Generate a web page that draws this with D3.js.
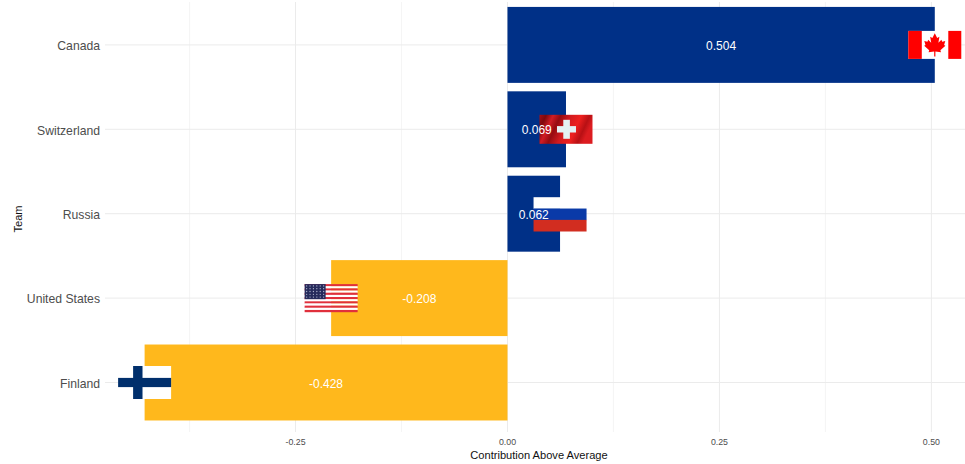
<!DOCTYPE html>
<html><head><meta charset="utf-8">
<script src="https://cdn.jsdelivr.net/npm/d3@7"></script>
<style>html,body{margin:0;padding:0;background:#fff}svg{display:block}text{font-family:"Liberation Sans",Arial,sans-serif}</style>
</head><body><svg id="c" width="965" height="464"></svg>
<script>
const teams = ["Canada","Switzerland","Russia","United States","Finland"];
const values = [0.504,0.069,0.062,-0.208,-0.428];
const xMajor = [-0.25,0,0.25,0.5];
const xMinor = [-0.375,-0.125,0.125,0.375];
const xLabels = ["-0.25","0.00","0.25","0.50"];
const flagKeys = ["ca","ch","ru","us","fi"];
const POS="#003087", NEG="#FFB81C";

const svg=d3.select("#c");
const defs=svg.append("defs");
const x=d3.scaleLinear().domain([-0.4746,0.5506]).range([105.1,974.3]);
const y=d3.scaleBand().domain(teams).range([2.7,424.7]).paddingInner(0.1).paddingOuter(0.05);
const top0=2, bottom0=432;
const g=svg.append("g");

g.selectAll(".minor").data(xMinor).join("line")
 .attr("x1",d=>x(d)).attr("x2",d=>x(d)).attr("y1",top0).attr("y2",bottom0)
 .attr("stroke","#f1f1f1").attr("stroke-width",0.7);
g.selectAll(".major").data(xMajor).join("line")
 .attr("x1",d=>x(d)).attr("x2",d=>x(d)).attr("y1",top0).attr("y2",bottom0)
 .attr("stroke","#ebebeb").attr("stroke-width",1);
g.selectAll(".hgrid").data(teams).join("line")
 .attr("x1",105).attr("x2",965)
 .attr("y1",d=>y(d)+y.bandwidth()/2).attr("y2",d=>y(d)+y.bandwidth()/2)
 .attr("stroke","#ebebeb").attr("stroke-width",1);

g.selectAll(".bar").data(teams).join("rect")
 .attr("x",(d,i)=>Math.min(x(0),x(values[i])))
 .attr("width",(d,i)=>Math.abs(x(values[i])-x(0)))
 .attr("y",d=>y(d)).attr("height",y.bandwidth())
 .attr("fill",(d,i)=>values[i]>=0?POS:NEG);

const swiss=defs.append("linearGradient").attr("id","swissWave").attr("x1",0).attr("y1",0).attr("x2",1).attr("y2",0.25);
[[0,"#a80f16"],[0.12,"#7e080c"],[0.25,"#d01c24"],[0.38,"#960b10"],[0.55,"#d01a1e"],[0.75,"#ee201f"],[0.9,"#b81014"],[1,"#dc1c20"]]
 .forEach(s=>swiss.append("stop").attr("offset",s[0]).attr("stop-color",s[1]));

const FW=53;
const flags={
 ca(f,h){
  f.append("rect").attr("width",FW).attr("height",h).attr("fill","#fff");
  f.append("rect").attr("width",13.5).attr("height",h).attr("fill","#ff0000");
  f.append("rect").attr("x",FW-13).attr("width",13).attr("height",h).attr("fill","#ff0000");
  const leaf=[[0,-11],[2.4,-6.5],[4.6,-7.8],[3.6,-2],[6.6,-5],[7.4,-3],[10.5,-3.6],[9.3,0],[10.6,.8],[5.6,5],[6.2,7],[.6,6.2],[.6,11],[-.6,11],[-.6,6.2],[-6.2,7],[-5.6,5],[-10.6,.8],[-9.3,0],[-10.5,-3.6],[-7.4,-3],[-6.6,-5],[-3.6,-2],[-4.6,-7.8],[-2.4,-6.5]];
  f.append("polygon").attr("points",leaf.map(p=>[FW/2+p[0],h/2+p[1]*1.05].join(",")).join(" ")).attr("fill","#ff0000");
 },
 ch(f,h){
  f.append("rect").attr("width",FW).attr("height",h).attr("fill","url(#swissWave)");
  f.append("rect").attr("x",17.5).attr("y",h/2-3.2).attr("width",19).attr("height",6.4).attr("fill","#e4f1f3");
  f.append("rect").attr("x",23.8).attr("y",h/2-9.5).attr("width",6.6).attr("height",19).attr("fill","#e4f1f3");
 },
 ru(f,h){
  [["#ffffff"],["#0a3aa8"],["#d22d20"]].forEach((c,i)=>
   f.append("rect").attr("y",h/3*i).attr("width",FW).attr("height",h/3+0.3).attr("fill",c[0]));
 },
 us(f,h){
  d3.range(13).forEach(i=>f.append("rect").attr("y",h/13*i).attr("width",FW).attr("height",h/13+0.1).attr("fill",i%2?"#fff":"#e0303c"));
  f.append("rect").attr("width",21).attr("height",h*7/13).attr("fill","#262b5c");
  d3.range(5).forEach(r=>d3.range(6).forEach(c=>
   f.append("circle").attr("cx",2+c*3.4).attr("cy",1.8+r*2.8).attr("r",0.65).attr("fill","#aeb2cc")));
 },
 fi(f,h){
  f.append("rect").attr("width",FW).attr("height",h).attr("fill","#fff");
  f.append("rect").attr("y",h/2-4.6).attr("width",FW).attr("height",9.2).attr("fill","#002f6c");
  f.append("rect").attr("x",15).attr("width",9.4).attr("height",h).attr("fill","#002f6c");
 }
};
const flagH={ca:28,ch:29,ru:34,us:28,fi:33};
teams.forEach((t,i)=>{
 const k=flagKeys[i],h=flagH[k];
 const f=g.append("g").attr("transform",`translate(${x(values[i])-FW/2},${y(t)+y.bandwidth()/2-h/2+(k==="ru"?0.5:0)})`);
 flags[k](f,h);
});

g.selectAll(".vlab").data(teams).join("text")
 .attr("x",(d,i)=>x(values[i]/2)).attr("y",d=>y(d)+y.bandwidth()/2+5)
 .attr("text-anchor","middle").attr("font-size",12).attr("fill","#fff")
 .text((d,i)=>values[i].toFixed(3));

g.selectAll(".ylab").data(teams).join("text")
 .attr("x",100).attr("y",d=>y(d)+y.bandwidth()/2+5.2)
 .attr("text-anchor","end").attr("font-size",12.2).attr("fill","#4d4d4d").text(d=>d);
g.selectAll(".xlab").data(xMajor).join("text")
 .attr("x",d=>x(d)).attr("y",444.5).attr("text-anchor","middle")
 .attr("font-size",8.8).attr("fill","#4d4d4d").text((d,i)=>xLabels[i]);

svg.append("text").attr("x",539).attr("y",459).attr("text-anchor","middle").attr("font-size",11.1).attr("fill","#111").text("Contribution Above Average");
svg.append("text").attr("transform","translate(22,219) rotate(-90)").attr("text-anchor","middle").attr("font-size",11.1).attr("fill","#111").text("Team");
</script></body></html>
